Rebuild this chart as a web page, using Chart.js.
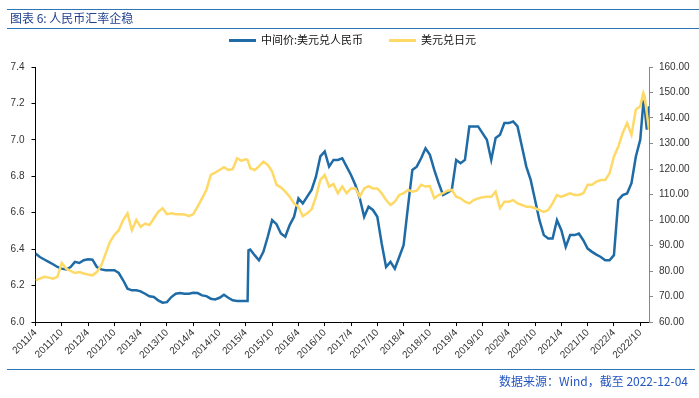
<!DOCTYPE html>
<html>
<head>
<meta charset="utf-8">
<script src="https://cdn.jsdelivr.net/npm/chart.js@4.4.1/dist/chart.umd.min.js"></script>
<style>
  body { margin: 0; background: #fff; }
  #wrap { position: relative; width: 699px; height: 398px; overflow: hidden; font-family: "Noto Sans CJK SC", sans-serif; }
  #c { position: absolute; left: 0; top: 0; }
  .rule { position: absolute; left: 7px; right: 0; height: 1px; background: #2e75b6; }
  #title { position: absolute; left: 10px; top: 9px; font-size: 12px; color: #1f3f8f; line-height: 18px; white-space: nowrap; }
  #legend { position: absolute; top: 31px; left: 229px; font-size: 11px; color: #111; line-height: 16px; white-space: nowrap; }
  #legend span.sw { display: inline-block; width: 27px; height: 3px; vertical-align: middle; margin-right: 5px; position: relative; top: -1px; }
  #legend span.lb { margin-right: 26px; }
  #footer { position: absolute; right: 11px; top: 372px; font-size: 12px; color: #2456c2; line-height: 18px; white-space: nowrap; }
</style>
</head>
<body>
<div id="wrap">
  <canvas id="c" width="699" height="398"></canvas>
  <div class="rule" style="top:9px"></div>
  <div id="title">图表 6: 人民币汇率企稳</div>
  <div class="rule" style="top:28px"></div>
  <div id="legend"><span class="sw" style="background:#1f6ba6"></span><span class="lb">中间价:美元兑人民币</span><span class="sw" style="background:#ffd966"></span><span>美元兑日元</span></div>
  <div class="rule" style="top:369px; right:4px"></div>
  <div id="footer">数据来源：Wind，截至 2022-12-04</div>
</div>
<script>
// months since 2011/4
const months = [
  0,1,2,3,4,5,6,7,8,9,10,11,12,13,14,15,16,17,18,19,20,21,22,23,24,25,26,27,28,29,
  30,31,32,33,34,35,36,37,38,39,40,41,42,43,44,45,46,47,48,48.4,48.6,49,50,51,52,53,54,55,56,57,
  58,59,60,61,62,63,64,65,66,67,68,69,70,71,72,73,74,75,76,77,78,79,80,81,82,83,84,85,86,87,
  88,89,90,91,92,93,94,95,96,97,98,99,100,101,102,103,104,105,106,107,108,109,110,111,112,113,114,115,116,117,
  118,119,120,121,122,123,124,125,126,127,128,129,130,131,132,133,134,135,136,137,138,138.7,139,139.5,140
];
// 中间价:美元兑人民币 (left axis)
const usdCny = [
  6.376,6.357,6.343,6.330,6.317,6.302,6.293,6.288,6.302,6.330,6.324,6.339,6.344,6.342,6.302,6.289,6.284,6.284,6.284,6.269,
  6.229,6.183,6.174,6.174,6.168,6.155,6.141,6.137,6.119,6.106,6.109,6.137,6.155,6.159,6.155,6.155,6.161,6.159,6.146,6.142,
  6.128,6.124,6.133,6.150,6.133,6.119,6.115,6.115,6.115,6.115,6.394,6.398,6.367,6.339,6.385,6.468,6.559,6.537,6.486,6.468,
  6.532,6.578,6.679,6.651,6.688,6.725,6.798,6.909,6.936,6.853,6.890,6.890,6.899,6.853,6.807,6.752,6.679,6.578,6.633,6.615,
  6.578,6.431,6.302,6.330,6.293,6.357,6.422,6.633,6.835,6.853,6.899,6.954,6.918,6.835,6.762,6.697,6.710,6.725,6.890,6.872,
  6.890,7.074,7.074,7.074,7.037,7.000,6.890,7.010,7.028,7.092,7.092,7.101,7.074,6.964,6.853,6.780,6.670,6.559,6.477,6.458,
  6.458,6.559,6.504,6.412,6.477,6.477,6.486,6.449,6.403,6.385,6.370,6.357,6.339,6.339,6.367,6.670,6.697,6.706,6.762,6.909,
  7.000,7.200,7.180,7.056,7.184
];
// 美元兑日元 (right axis)
const usdJpy = [
  76.3,77.0,77.7,77.4,77.0,77.7,83.2,80.9,80.0,79.2,79.6,79.0,78.6,78.3,79.6,82.2,86.8,91.4,94.1,96.0,
  100.0,102.6,96.0,100.0,97.3,98.6,98.0,100.6,103.2,104.6,102.3,102.6,102.3,102.3,102.2,101.5,102.3,105.2,108.5,111.8,
  117.7,118.6,119.6,120.7,119.6,119.9,124.2,123.2,123.9,123.5,122.5,120.3,119.6,121.0,122.9,121.6,119.0,113.8,112.8,111.1,
  109.1,106.5,105.2,101.5,102.6,104.2,109.1,115.7,117.7,113.1,114.1,110.5,113.1,110.5,112.4,112.4,109.1,112.4,113.3,112.4,
  112.4,110.5,107.8,105.9,107.2,109.8,110.5,111.8,111.1,111.5,113.8,113.1,113.3,108.5,109.8,110.5,111.5,111.8,109.1,108.5,
  107.2,106.5,107.8,108.5,108.9,109.1,109.1,111.1,104.6,107.2,107.2,107.8,106.5,105.9,105.2,105.2,104.6,103.9,103.2,103.9,
  106.5,109.8,109.1,109.8,110.5,109.8,109.8,110.5,113.8,113.8,115.1,115.7,115.7,118.3,124.9,128.8,134.1,138.0,133.4,143.3,
  144.6,149.8,148.5,141.9,135.4
];

const tickFont = { family: '"Liberation Sans Narrow", "Liberation Sans", Arial, sans-serif', size: 10 };

function monthLabel(v) {
  const t = 3 + v;
  return (2011 + Math.floor(t / 12)) + '/' + (t % 12 + 1);
}

new Chart(document.getElementById('c'), {
  type: 'line',
  data: {
    datasets: [
      { label: '中间价:美元兑人民币', data: months.map((m, i) => ({ x: m, y: usdCny[i] })), yAxisID: 'y',
        borderColor: '#1f6ba6', borderWidth: 2.5, pointRadius: 0, tension: 0, order: 1 },
      { label: '美元兑日元', data: months.map((m, i) => ({ x: m, y: usdJpy[i] })), yAxisID: 'y1',
        borderColor: '#ffd966', borderWidth: 2.5, pointRadius: 0, tension: 0, order: 0 }
    ]
  },
  options: {
    responsive: false, animation: false,
    layout: { padding: { top: 67, left: 0, right: 0, bottom: 0 } },
    plugins: { legend: { display: false }, tooltip: { enabled: false } },
    scales: {
      x: {
        type: 'linear', min: 0, max: 140,
        grid: { drawOnChartArea: false, tickLength: 4, color: '#000' },
        border: { color: '#000' },
        ticks: { stepSize: 6, includeBounds: false, autoSkip: false, minRotation: 45, maxRotation: 45,
                 padding: 1, color: '#333', font: tickFont, callback: v => monthLabel(v) },
        afterFit: s => { s.height = 76; s.paddingLeft = 0; s.paddingRight = 0; }
      },
      y: {
        position: 'left', min: 6.0, max: 7.4,
        grid: { drawOnChartArea: false, tickLength: 4, color: '#000' },
        border: { color: '#000' },
        ticks: { stepSize: 0.2, padding: 7, color: '#333', font: tickFont, callback: v => v.toFixed(1) },
        afterFit: s => { s.width = 35.5; }
      },
      y1: {
        position: 'right', min: 60, max: 160,
        grid: { drawOnChartArea: false, tickLength: 4, color: '#888' },
        border: { color: '#888' },
        ticks: { stepSize: 10, padding: 6, color: '#333', font: tickFont, callback: v => v.toFixed(2) },
        afterFit: s => { s.width = 50; }
      }
    }
  }
});
</script>
</body>
</html>
